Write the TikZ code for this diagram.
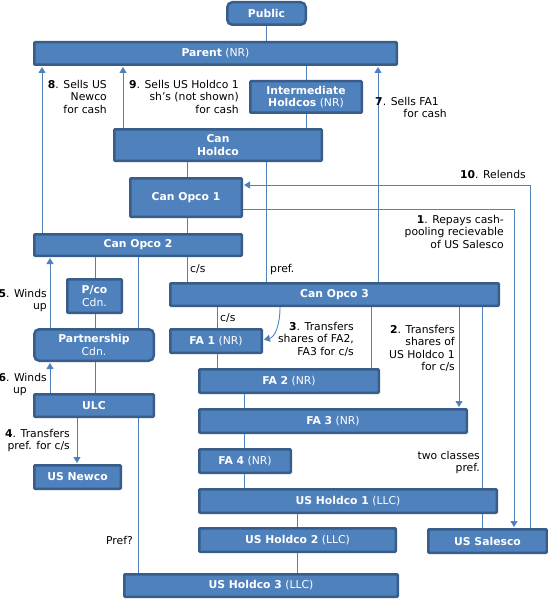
\documentclass[tikz,border=0pt]{standalone}
\usepackage{fontspec}
\setmainfont{DejaVu Sans}
\usetikzlibrary{arrows.meta}
\definecolor{boxblue}{RGB}{79,129,189}
\definecolor{boxedge}{RGB}{56,93,138}
\definecolor{linkblue}{RGB}{79,129,189}

\begin{document}
\begin{tikzpicture}[x=1pt, y=-1pt,
    every node/.style={font=\fontsize{10.8}{12.3}\selectfont},
    entity/.style={draw=boxedge, fill=boxblue, line width=2.5pt, text=white, align=center, inner sep=0pt, rounded corners=1pt},
    boxsize/.style 2 args={minimum width=#1pt-2.5pt, minimum height=#2pt-2.5pt},
    link/.style={draw=linkblue, line width=0.9pt},
    move/.style={link, -{Triangle[width=7pt, length=6pt]}, shorten >=1pt},
    note/.style={inner sep=0pt, align=right, anchor=north east}]
    \useasboundingbox (0,0) rectangle (548,599);

    % entities
    \node[entity, boxsize={81}{25}, rounded corners=5pt] (public) at (266.5,13.5) {\textbf{Public}};
    \node[entity, boxsize={365}{25}] (parent) at (215.5,53.5) {\textbf{Parent} (NR)};
    \node[entity, boxsize={114}{34}] (inter) at (306,97) {\textbf{Intermediate}\\\textbf{Holdcos} (NR)};
    \node[entity, boxsize={210}{34}] (holdco) at (218,145) {\textbf{Can}\\\textbf{Holdco}};
    \node[entity, boxsize={114}{41}] (opcoone) at (186,197.5) {\textbf{Can Opco 1}};
    \node[entity, boxsize={210}{24}] (opcotwo) at (138,245) {\textbf{Can Opco 2}};
    \node[entity, boxsize={57}{36}] (pco) at (94.5,296) {\textbf{P/co}\\Cdn.};
    \node[entity, boxsize={122}{34}, rounded corners=5pt] (partner) at (94,345) {\textbf{Partnership}\\Cdn.};
    \node[entity, boxsize={122}{25}] (ulc) at (94,405.5) {\textbf{ULC}};
    \node[entity, boxsize={89}{26}] (newco) at (77.5,477) {\textbf{US Newco}};
    \node[entity, boxsize={331}{25}] (opcothree) at (334.5,294.5) {\textbf{Can Opco 3}};
    \node[entity, boxsize={94}{26}] (faone) at (216,341) {\textbf{FA 1} (NR)};
    \node[entity, boxsize={182}{26}] (fatwo) at (289,381) {\textbf{FA 2} (NR)};
    \node[entity, boxsize={270}{26}] (fathree) at (333,421) {\textbf{FA 3} (NR)};
    \node[entity, boxsize={94}{26}] (fafour) at (245,461) {\textbf{FA 4} (NR)};
    \node[entity, boxsize={300}{26}] (usone) at (348,501) {\textbf{US Holdco 1} (LLC)};
    \node[entity, boxsize={199}{26}] (ustwo) at (297.5,540) {\textbf{US Holdco 2} (LLC)};
    \node[entity, boxsize={276}{25}] (usthree) at (261,585.5) {\textbf{US Holdco 3} (LLC)};
    \node[entity, boxsize={121}{26}] (salesco) at (487.5,541) {\textbf{US Salesco}};

    % ownership links
    \foreach \a/\b/\x in {public/parent/266, parent/inter/306, inter/holdco/306,
        holdco/opcoone/187, holdco/opcothree/266, opcoone/opcotwo/187,
        opcotwo/opcothree/187, opcotwo/pco/95, pco/partner/95, opcotwo/partner/138,
        partner/ulc/95, ulc/usthree/138, opcothree/faone/217, faone/fatwo/217,
        opcothree/fatwo/371, fatwo/fathree/244, fathree/fafour/244, fafour/usone/244,
        opcothree/usone/482, usone/salesco/482, usone/ustwo/297, ustwo/usthree/297}
        \draw[link] (\a.south -| \x,0) -- (\b.north -| \x,0);

    % steps
    \draw[move] (opcoone.east |- 0,209) -| (salesco.north -| 514,0);
    \draw[move] (opcothree.south -| 459,0) -- (fathree.north -| 459,0);
    \draw[move] (opcothree.south -| 280,0) .. controls +(0,18) and +(12,-3) .. (faone.east |- 0,340);
    \draw[move] (ulc.south -| 77,0) -- (newco.north -| 77,0);
    \draw[move] (partner.north -| 50,0) -- (opcotwo.south -| 50,0);
    \draw[move] (ulc.north -| 50,0) -- (partner.south -| 50,0);
    \draw[move] (opcothree.north -| 378,0) -- (parent.south -| 378,0);
    \draw[move] (opcotwo.north -| 42,0) -- (parent.south -| 42,0);
    \draw[move] (holdco.north -| 123,0) -- (parent.south -| 123,0);
    \draw[move] (salesco.north -| 530,0) |- (opcoone.east |- 0,185);

    % labels
    \node[note] (stepeight) at (107,80) {\textbf{8}. Sells US\\Newco\\for cash};
    \node[note] (stepnine) at (239,80) {\textbf{9}. Sells US Holdco 1\\sh’s (not shown)\\for cash};
    \node[note] (stepseven) at (447,97) {\textbf{7}. Sells FA1\hspace*{8pt}\\for cash};
    \node[note] (stepten) at (526,170) {\textbf{10}. Relends};
    \node[note] (stepone) at (504,215) {\textbf{1}. Repays cash-\\pooling recievable\\of US Salesco};
    \node[note] (stepfive) at (47,289) {\textbf{5}. Winds\\up};
    \node[note] (stepsix) at (47,373) {\textbf{6}. Winds\\up\hspace*{20pt}};
    \node[note] (stepfour) at (70,429) {\textbf{4}. Transfers\\pref. for c/s};
    \node[note] (stepthree) at (354,322) {\textbf{3}. Transfers\\shares of FA2,\\FA3 for c/s};
    \node[note] (steptwo) at (455,325) {\textbf{2}. Transfers\\shares of\\US Holdco 1\\for c/s};
    \node[note] (twoclass) at (480,451) {two classes\\pref.};
    \node[note, anchor=base east] (prefq) at (133,544) {Pref?};
    \node[note, anchor=base west] (csone) at (190,272) {c/s};
    \node[note, anchor=base west] (prefone) at (270,272) {pref.};
    \node[note, anchor=base west] (cstwo) at (220,321) {c/s};
\end{tikzpicture}
\end{document}
